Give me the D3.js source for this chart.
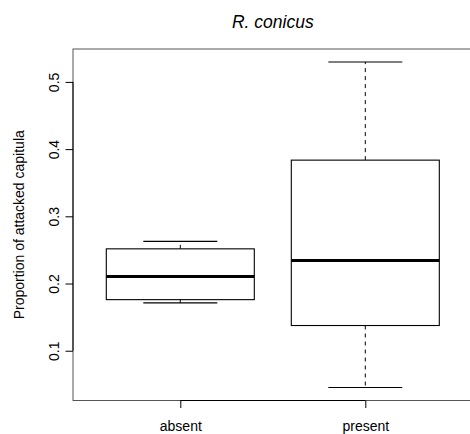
<!DOCTYPE html>
<html>
<head>
<meta charset="utf-8">
<script src="https://cdn.jsdelivr.net/npm/d3@7"></script>
<style>
  body { margin: 0; background: #fff; }
  svg { display: block; font-family: "Liberation Sans", Arial, sans-serif; }
</style>
</head>
<body>
<svg class="chart" width="470" height="434"></svg>
<script>
// groups and five-number summaries
const categories = ['absent', 'present']
const lowerWhisker = [0.1713, 0.0453]
const lowerQuartile = [0.176, 0.1375]
const medians = [0.2104, 0.2343]
const upperQuartile = [0.2516, 0.3836]
const upperWhisker = [0.2628, 0.5296]
const yTicks = [0.1, 0.2, 0.3, 0.4, 0.5]

const title = 'R. conicus'
const yLabel = 'Proportion of attacked capitula'

const plot = { left: 73, top: 49, bottom: 400.5, right: 472.6 }

const boxes = categories.map((name, i) => ({
  name,
  pos: i + 1,
  lo: lowerWhisker[i],
  q1: lowerQuartile[i],
  med: medians[i],
  q3: upperQuartile[i],
  hi: upperWhisker[i]
}))

// R style 4% padding around the data range
const dmin = d3.min(lowerWhisker)
const dmax = d3.max(upperWhisker)
const pad = (dmax - dmin) * 0.04

const y = d3.scaleLinear()
  .domain([dmin - pad, dmax + pad])
  .range([plot.bottom, plot.top])

const x = d3.scaleLinear()
  .domain([0.42, 2.58])
  .range([plot.left, plot.right])

const svg = d3.select('svg.chart')

// frame
svg.append('rect')
  .attr('x', plot.left)
  .attr('y', plot.top)
  .attr('width', plot.right - plot.left)
  .attr('height', plot.bottom - plot.top)
  .attr('fill', 'none')
  .attr('stroke', '#555')
  .attr('stroke-width', 1)

const bw = 0.4   // half box width
const cw = 0.2   // half cap width

const g = svg.append('g').attr('class', 'boxes')
  .selectAll('g').data(boxes).enter().append('g')

// dashed whiskers
g.append('line')
  .attr('x1', d => x(d.pos)).attr('x2', d => x(d.pos))
  .attr('y1', d => y(d.q3)).attr('y2', d => y(d.hi))
  .attr('stroke', '#000').attr('stroke-dasharray', '4,4')
g.append('line')
  .attr('x1', d => x(d.pos)).attr('x2', d => x(d.pos))
  .attr('y1', d => y(d.q1)).attr('y2', d => y(d.lo))
  .attr('stroke', '#000').attr('stroke-dasharray', '4,4')

// caps
g.append('line')
  .attr('x1', d => x(d.pos - cw)).attr('x2', d => x(d.pos + cw))
  .attr('y1', d => y(d.hi)).attr('y2', d => y(d.hi))
  .attr('stroke', '#000').attr('stroke-width', 1.2)
g.append('line')
  .attr('x1', d => x(d.pos - cw)).attr('x2', d => x(d.pos + cw))
  .attr('y1', d => y(d.lo)).attr('y2', d => y(d.lo))
  .attr('stroke', '#000').attr('stroke-width', 1.2)

// box
g.append('rect')
  .attr('x', d => x(d.pos - bw))
  .attr('y', d => y(d.q3))
  .attr('width', d => x(d.pos + bw) - x(d.pos - bw))
  .attr('height', d => y(d.q1) - y(d.q3))
  .attr('fill', 'none')
  .attr('stroke', '#000')
  .attr('stroke-width', 1.1)

// median
g.append('line')
  .attr('x1', d => x(d.pos - bw)).attr('x2', d => x(d.pos + bw))
  .attr('y1', d => y(d.med)).attr('y2', d => y(d.med))
  .attr('stroke', '#000').attr('stroke-width', 3)

// y axis
const yAxis = svg.append('g')
  .attr('transform', `translate(${plot.left},0)`)
  .call(d3.axisLeft(y).tickValues(yTicks).tickSize(7.5).tickFormat(d3.format('.1f')))
yAxis.select('.domain').remove()
yAxis.append('line')
  .attr('y1', y(yTicks[0])).attr('y2', y(yTicks[yTicks.length - 1]))
  .attr('stroke', '#000')
yAxis.selectAll('.tick line').attr('stroke', '#000')
yAxis.selectAll('.tick text')
  .attr('x', 0).attr('dy', 0)
  .attr('transform', 'translate(-14.5,0) rotate(-90)')
  .attr('text-anchor', 'middle')
  .attr('fill', '#000')
  .style('font-size', '14px')
  .style('font-family', '"Liberation Sans", Arial, sans-serif')

// x axis
const xAxis = svg.append('g')
  .attr('transform', `translate(0,${plot.bottom})`)
  .call(d3.axisBottom(x).tickValues(boxes.map(d => d.pos)).tickSize(7.5)
    .tickFormat((d, i) => categories[i]))
xAxis.select('.domain').remove()
xAxis.append('line')
  .attr('x1', x(1)).attr('x2', x(categories.length))
  .attr('stroke', '#000')
xAxis.selectAll('.tick line').attr('stroke', '#000')
xAxis.selectAll('.tick text')
  .attr('y', 30.5).attr('dy', 0)
  .attr('fill', '#000')
  .style('font-size', '14px')
  .style('font-family', '"Liberation Sans", Arial, sans-serif')

// title and y label
svg.append('text')
  .attr('x', (plot.left + plot.right) / 2)
  .attr('y', 28.3)
  .attr('text-anchor', 'middle')
  .style('font-size', '17.5px')
  .style('font-style', 'italic')
  .text(title)

svg.append('text')
  .attr('transform', `translate(23.5,${(plot.top + plot.bottom) / 2}) rotate(-90)`)
  .attr('text-anchor', 'middle')
  .style('font-size', '14px')
  .text(yLabel)
</script>
</body>
</html>
